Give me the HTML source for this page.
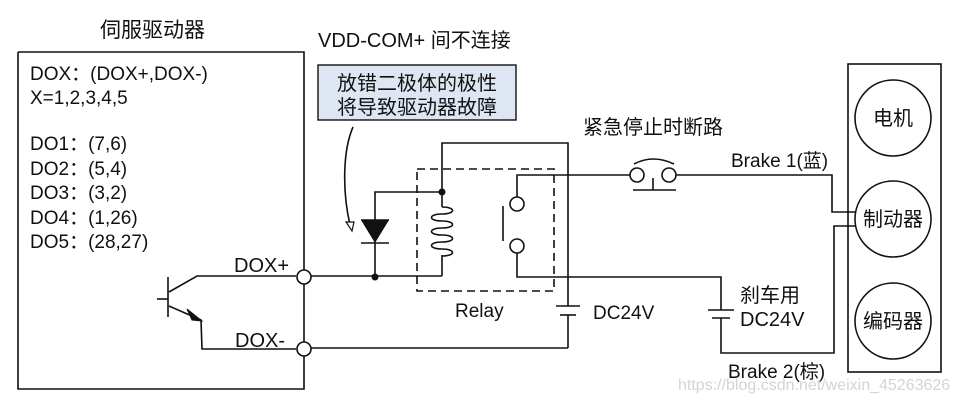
<!DOCTYPE html>
<html><head><meta charset="utf-8"><style>
body{margin:0;background:#fff;}
svg{display:block;font-family:"Liberation Sans","Noto Sans CJK SC",sans-serif;}
</style></head><body>
<svg width="958" height="404" viewBox="0 0 958 404" xmlns="http://www.w3.org/2000/svg">
<g fill="none" stroke="#111" stroke-width="1.6">
<polyline points="18,52 304,52 304,270"/>
<polyline points="304,284 304,342"/>
<polyline points="304,356 304,389 18,389 18,52"/>
<line x1="168" y1="277" x2="168" y2="317"/>
<line x1="157" y1="299" x2="168" y2="299"/>
<polyline points="169,292 197,276 296,276"/>
<polyline points="169,306 201,320 202,349 296,349"/>
<line x1="311" y1="276" x2="442" y2="276"/>
<polyline points="442,276 442,255"/>
<polyline points="442,207 442,143 568,143 568,306"/>
<line x1="568" y1="315" x2="568" y2="348"/>
<line x1="311" y1="348" x2="568" y2="348"/>
<line x1="556" y1="306" x2="580" y2="306"/>
<line x1="560" y1="315" x2="576" y2="315"/>
<polyline points="375,276 375,192 442,192"/>
<line x1="361" y1="220" x2="389" y2="220"/>
<path d="M442,207 c14,0 14,7 0,7 c-14,0 -14,7 0,7 c14,0 14,7 0,7 c-14,0 -14,7 0,7 c14,0 14,7 0,7 c-14,0 -14,7 0,7 c14,0 14,7 0,7" />
<rect x="417" y="169" width="137" height="122" stroke-dasharray="8,5"/>
<polyline points="517,197 517,175 630,175"/>
<circle cx="517" cy="204" r="7"/>
<circle cx="517" cy="246" r="7"/>
<polyline points="517,253 517,277 721,277 721,310"/>
<line x1="503" y1="206" x2="503" y2="241"/>
<line x1="708" y1="310" x2="734" y2="310"/>
<line x1="712" y1="318" x2="730" y2="318"/>
<polyline points="721,318 721,353 834,353 834,226 856,226"/>
<circle cx="637" cy="175" r="7"/>
<circle cx="669" cy="175" r="7"/>
<path d="M634,164 q19,-10 40,0"/>
<line x1="633" y1="190" x2="676" y2="190"/>
<line x1="653" y1="178" x2="653" y2="190"/>
<polyline points="676,175 832,175 832,212 856,212"/>
<rect x="848" y="64" width="93" height="308"/>
<circle cx="893" cy="118" r="38"/>
<circle cx="893" cy="219" r="38"/>
<circle cx="893" cy="321" r="38"/>
<path d="M353,127 C343,150 342,190 350,225"/>
</g>
<polygon points="361,220 389,220 375,243" fill="#111"/>
<line x1="361" y1="243" x2="389" y2="243" stroke="#111" stroke-width="1.6"/>
<polygon points="346,222 354,222 352,231" fill="#fff" stroke="#111" stroke-width="1.2"/>
<polygon points="202,321 187,309 192,320" fill="#111" stroke="#111" stroke-width="1"/>
<g fill="#fff" stroke="#111" stroke-width="1.6">
<circle cx="304" cy="277" r="7"/>
<circle cx="304" cy="349" r="7"/>
</g>
<g fill="#111"><circle cx="442" cy="192" r="3.5"/><circle cx="375" cy="277" r="3.5"/></g>
<rect x="318" y="65" width="198" height="55" fill="#dde6f2" stroke="#111" stroke-width="1.4"/>
<g fill="#111" font-size="19">
<text x="100" y="37" font-size="21">伺服驱动器</text>
<text x="30" y="80">DOX：(DOX+,DOX-)</text>
<text x="30" y="104">X=1,2,3,4,5</text>
<text x="30" y="150">DO1：(7,6)</text>
<text x="30" y="175">DO2：(5,4)</text>
<text x="30" y="199">DO3：(3,2)</text>
<text x="30" y="224">DO4：(1,26)</text>
<text x="30" y="248">DO5：(28,27)</text>
<text x="234" y="272" font-size="20">DOX+</text>
<text x="235" y="347" font-size="20">DOX-</text>
<text x="318" y="47" font-size="20">VDD-COM+ 间不连接</text>
<text x="337" y="90" font-size="20">放错二极体的极性</text>
<text x="337" y="114" font-size="20">将导致驱动器故障</text>
<text x="455" y="317">Relay</text>
<text x="593" y="319">DC24V</text>
<text x="583" y="134" font-size="20">紧急停止时断路</text>
<text x="731" y="167">Brake 1(蓝)</text>
<text x="740" y="302" font-size="20">刹车用</text>
<text x="740" y="326" font-size="20">DC24V</text>
<text x="728" y="378">Brake 2(棕)</text>
<text x="893" y="125" text-anchor="middle" font-size="20">电机</text>
<text x="893" y="226" text-anchor="middle" font-size="20">制动器</text>
<text x="893" y="328" text-anchor="middle" font-size="20">编码器</text>
</g>
<text x="678" y="390" font-size="16" fill="#d4d4d4">https://blog.csdn.net/weixin_45263626</text>
</svg>
</body></html>
